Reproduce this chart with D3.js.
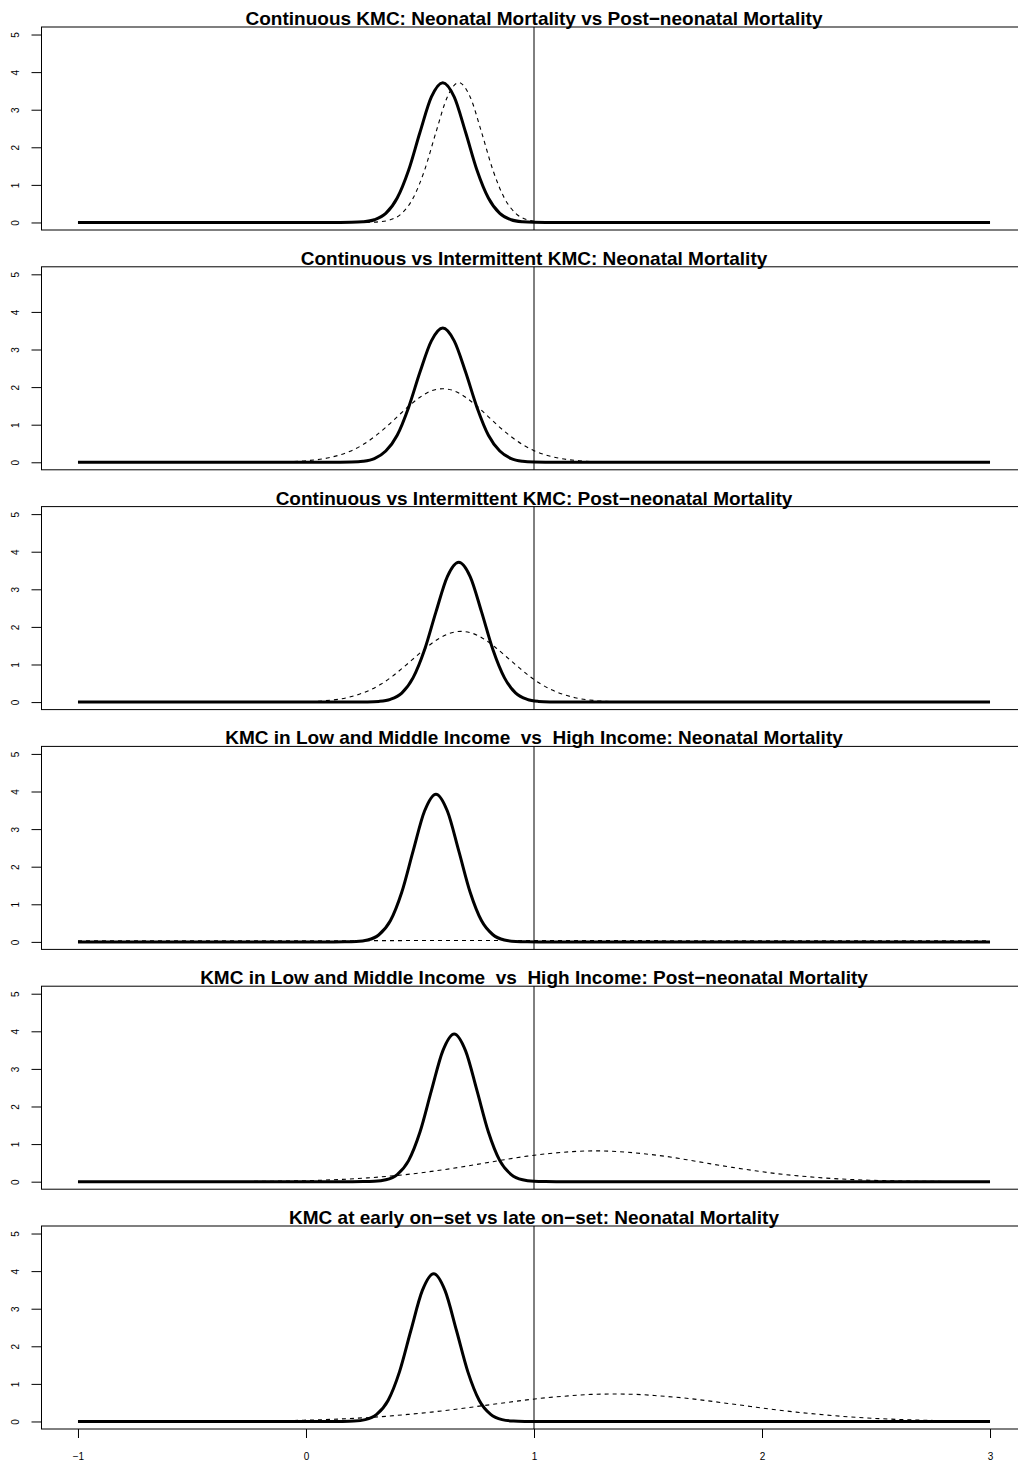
<!DOCTYPE html>
<html>
<head>
<meta charset="utf-8">
<script src="https://cdn.jsdelivr.net/npm/d3@7"></script>
<style>
  html, body { margin: 0; padding: 0; background: #fff; }
  svg { display: block; }
  text { font-family: "Liberation Sans", Arial, Helvetica, sans-serif; fill: #000; }
</style>
</head>
<body>
<div id="chart"></div>
<script>
// Posterior densities of the KMC effect, one panel per comparison.
const titles = [
  "Continuous KMC: Neonatal Mortality vs Post\u2212neonatal Mortality",
  "Continuous vs Intermittent KMC: Neonatal Mortality",
  "Continuous vs Intermittent KMC: Post\u2212neonatal Mortality",
  "KMC in Low and Middle Income  vs  High Income: Neonatal Mortality",
  "KMC in Low and Middle Income  vs  High Income: Post\u2212neonatal Mortality",
  "KMC at early on\u2212set vs late on\u2212set: Neonatal Mortality"
];

const xTicks = [-1, 0, 1, 2, 3];
const xTickLabels = ["\u22121", "0", "1", "2", "3"];
const yTicks = [0, 1, 2, 3, 4, 5];
const refLine = 1;

// [x, density] pairs
const solid1 = [[-1,0],[0.15,0],[0.20,0.003],[0.25,0.018],[0.30,0.073],[0.35,0.24],[0.40,0.65],[0.45,1.39],[0.50,2.40],[0.55,3.34],[0.60,3.72],[0.65,3.34],[0.70,2.40],[0.75,1.39],[0.80,0.65],[0.85,0.24],[0.90,0.073],[0.95,0.018],[1.00,0.003],[1.05,0],[3,0]];
const dashed1 = [[-1,0],[0.22,0],[0.27,0.003],[0.32,0.018],[0.37,0.073],[0.42,0.24],[0.47,0.65],[0.52,1.39],[0.57,2.40],[0.62,3.34],[0.67,3.72],[0.72,3.34],[0.77,2.40],[0.82,1.39],[0.87,0.65],[0.92,0.24],[0.97,0.073],[1.02,0.018],[1.07,0.003],[1.12,0],[3,0]];

const solid2 = [[-1,0],[0.10,0],[0.15,0.001],[0.20,0.006],[0.25,0.027],[0.30,0.099],[0.35,0.30],[0.40,0.72],[0.45,1.46],[0.50,2.40],[0.55,3.23],[0.60,3.57],[0.65,3.23],[0.70,2.40],[0.75,1.46],[0.80,0.72],[0.85,0.30],[0.90,0.099],[0.95,0.027],[1.00,0.006],[1.05,0.001],[1.10,0],[3,0]];
const dashed2 = [[-1,0],[-0.3,0],[-0.2,0.002],[-0.1,0.01],[0.0,0.04],[0.1,0.12],[0.2,0.31],[0.25,0.47],[0.3,0.68],[0.35,0.93],[0.4,1.21],[0.45,1.49],[0.5,1.73],[0.55,1.90],[0.6,1.955],[0.65,1.90],[0.7,1.73],[0.75,1.49],[0.8,1.21],[0.85,0.93],[0.9,0.68],[0.95,0.47],[1.0,0.31],[1.1,0.12],[1.2,0.04],[1.3,0.01],[1.4,0.002],[1.5,0],[3,0]];

const solid3 = [[-1,0],[0.22,0],[0.27,0.003],[0.32,0.018],[0.37,0.073],[0.42,0.24],[0.47,0.65],[0.52,1.39],[0.57,2.40],[0.62,3.34],[0.67,3.72],[0.72,3.34],[0.77,2.40],[0.82,1.39],[0.87,0.65],[0.92,0.24],[0.97,0.073],[1.02,0.018],[1.07,0.003],[1.12,0],[3,0]];
const dashed3 = [[-1,0],[-0.22,0],[-0.12,0.0015],[-0.02,0.008],[0.08,0.034],[0.18,0.117],[0.28,0.32],[0.33,0.48],[0.38,0.69],[0.43,0.94],[0.48,1.20],[0.53,1.46],[0.58,1.68],[0.63,1.83],[0.68,1.88],[0.73,1.83],[0.78,1.68],[0.83,1.46],[0.88,1.20],[0.93,0.94],[0.98,0.69],[1.03,0.48],[1.08,0.32],[1.18,0.117],[1.28,0.034],[1.38,0.008],[1.48,0.0015],[1.58,0],[3,0]];

const solid4 = [[-1,0],[0.12,0],[0.17,0.002],[0.22,0.010],[0.27,0.050],[0.32,0.19],[0.37,0.56],[0.42,1.32],[0.47,2.42],[0.52,3.48],[0.57,3.93],[0.62,3.48],[0.67,2.42],[0.72,1.32],[0.77,0.56],[0.82,0.19],[0.87,0.050],[0.92,0.010],[0.97,0.002],[1.02,0],[3,0]];
const dashed4 = [[-1,0.03],[0,0.03],[0.5,0.035],[1,0.035],[2,0.03],[3,0.03]];

const solid5 = [[-1,0],[0.20,0],[0.25,0.002],[0.30,0.010],[0.35,0.050],[0.40,0.19],[0.45,0.56],[0.50,1.32],[0.55,2.42],[0.60,3.48],[0.65,3.93],[0.70,3.48],[0.75,2.42],[0.80,1.32],[0.85,0.56],[0.90,0.19],[0.95,0.050],[1.00,0.010],[1.05,0.002],[1.10,0],[3,0]];
const dashed5 = [[-1,0],[-0.73,0],[-0.53,0.001],[-0.33,0.004],[-0.13,0.013],[0.07,0.039],[0.27,0.10],[0.37,0.15],[0.47,0.21],[0.57,0.29],[0.67,0.38],[0.77,0.48],[0.87,0.585],[0.97,0.68],[1.07,0.75],[1.17,0.80],[1.27,0.82],[1.37,0.80],[1.47,0.75],[1.57,0.68],[1.67,0.585],[1.77,0.48],[1.87,0.38],[1.97,0.29],[2.07,0.21],[2.17,0.15],[2.27,0.10],[2.47,0.039],[2.67,0.013],[2.87,0.004],[3,0.002]];

const solid6 = [[-1,0],[0.11,0],[0.16,0.002],[0.21,0.010],[0.26,0.050],[0.31,0.19],[0.36,0.56],[0.41,1.32],[0.46,2.42],[0.51,3.48],[0.56,3.93],[0.61,3.48],[0.66,2.42],[0.71,1.32],[0.76,0.56],[0.81,0.19],[0.86,0.050],[0.91,0.010],[0.96,0.002],[1.01,0],[3,0]];
const dashed6 = [[-1,0],[-0.65,0.001],[-0.45,0.003],[-0.25,0.010],[-0.05,0.028],[0.15,0.066],[0.35,0.137],[0.45,0.19],[0.55,0.25],[0.65,0.32],[0.75,0.40],[0.85,0.48],[0.95,0.56],[1.05,0.63],[1.15,0.68],[1.25,0.72],[1.35,0.73],[1.45,0.72],[1.55,0.68],[1.65,0.63],[1.75,0.56],[1.85,0.48],[1.95,0.40],[2.05,0.32],[2.15,0.25],[2.25,0.19],[2.35,0.137],[2.55,0.066],[2.75,0.028],[2.95,0.010],[3,0.008]];

const solids = [solid1, solid2, solid3, solid4, solid5, solid6];
const dasheds = [dashed1, dashed2, dashed3, dashed4, dashed5, dashed6];

const W = 1018, H = 1464;
const plotLeft = 41.5, plotRight = 1026.5;
const panelTop0 = 27, panelHeight = 203, panelStep = 239.8;

const svg = d3.select("#chart").append("svg")
  .attr("width", W).attr("height", H)
  .attr("viewBox", `0 0 ${W} ${H}`);

svg.append("rect").attr("width", W).attr("height", H).attr("fill", "#fff");

// R-style 4% padding around the data range
const x = d3.scaleLinear().domain([-1.16, 3.16]).range([plotLeft, plotRight]);

titles.forEach((title, i) => {
  const top = panelTop0 + i * panelStep;
  const bottom = top + panelHeight;
  const y = d3.scaleLinear().domain([-0.2, 5.2]).range([bottom, top]);
  const g = svg.append("g");

  // y axis
  const yAxis = g.append("g")
    .attr("transform", `translate(${plotLeft},0)`)
    .call(d3.axisLeft(y).tickValues(yTicks).tickSize(10).tickFormat(d3.format("d")));
  yAxis.select(".domain").remove();
  yAxis.selectAll(".tick line").attr("stroke", "#000").attr("stroke-width", 1);
  yAxis.selectAll(".tick text")
    .attr("x", null).attr("dy", null)
    .attr("text-anchor", "middle")
    .attr("transform", "translate(-22.5,0) rotate(-90)")
    .style("font-size", "10px")
    .style("font-family", "'Liberation Sans', Arial, sans-serif");

  // curves
  const line = d3.line()
    .x(d => x(d[0]))
    .y(d => y(d[1]))
    .curve(d3.curveMonotoneX);

  g.append("path")
    .datum(solids[i])
    .attr("d", line)
    .attr("fill", "none")
    .attr("stroke", "#000")
    .attr("stroke-width", 3)
    .attr("stroke-linejoin", "round");

  g.append("path")
    .datum(dasheds[i])
    .attr("d", line)
    .attr("fill", "none")
    .attr("stroke", "#000")
    .attr("stroke-width", 1.1)
    .attr("stroke-dasharray", "4,4");

  // reference line
  g.append("line")
    .attr("x1", x(refLine)).attr("x2", x(refLine))
    .attr("y1", top).attr("y2", bottom)
    .attr("stroke", "#000").attr("stroke-width", 1);

  // frame
  g.append("rect")
    .attr("x", plotLeft).attr("y", top)
    .attr("width", plotRight - plotLeft).attr("height", panelHeight)
    .attr("fill", "none").attr("stroke", "#000").attr("stroke-width", 1);

  // title
  g.append("text")
    .attr("x", (plotLeft + plotRight) / 2)
    .attr("y", top - 2)
    .attr("text-anchor", "middle")
    .style("font-weight", "bold")
    .style("font-size", "19px")
    .style("white-space", "pre")
    .text(title);

  // x axis on the last panel only
  if (i === titles.length - 1) {
    const xAxis = g.append("g")
      .attr("transform", `translate(0,${bottom})`)
      .call(d3.axisBottom(x).tickValues(xTicks).tickSize(9).tickPadding(15)
        .tickFormat((d, k) => xTickLabels[k]));
    xAxis.select(".domain").remove();
    xAxis.selectAll(".tick line").attr("stroke", "#000");
    xAxis.selectAll(".tick text")
      .style("font-size", "10px")
      .style("font-family", "'Liberation Sans', Arial, sans-serif");
  }
});
</script>
</body>
</html>
